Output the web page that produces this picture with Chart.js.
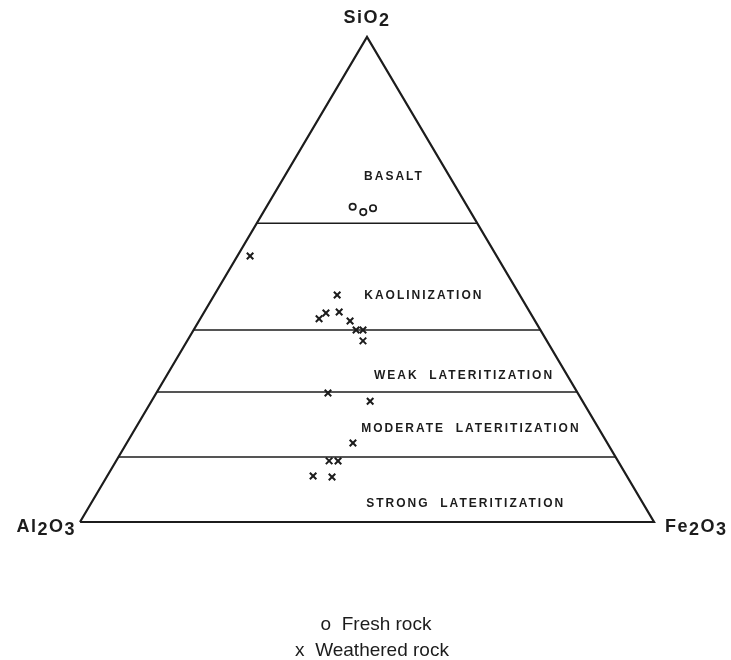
<!DOCTYPE html>
<html>
<head>
<meta charset="utf-8">
<script src="https://cdn.jsdelivr.net/npm/chart.js@4"></script>
<style>
  body { margin: 0; background: #fff; }
  #wrap { width: 731px; height: 660px; }
</style>
</head>
<body>
<div id="wrap"><canvas id="ternary" width="731" height="660"></canvas></div>
<script>
// corner oxides (apex, left, right)
const cornerLabels = ['SiO2', 'Al2O3', 'Fe2O3'];
// SiO2 % where the zone lines cross the triangle
const zoneBoundsSiO2 = [61.6, 39.6, 26.8, 13.4];
const zoneNames = ['BASALT', 'KAOLINIZATION', 'WEAK  LATERITIZATION', 'MODERATE  LATERITIZATION', 'STRONG  LATERITIZATION'];

// fresh rock compositions (%)
const freshSiO2  = [65.0, 63.9, 64.7];
const freshAl2O3 = [20.0, 18.7, 16.6];
const freshFe2O3 = [15.0, 17.4, 18.7];

// weathered rock compositions (%)
const weatheredSiO2  = [54.8, 46.8, 41.9, 43.1, 43.3, 41.4, 39.6, 39.6, 37.3, 26.6, 24.9, 16.3, 12.6, 12.6, 9.5, 9.3];
const weatheredAl2O3 = [42.9, 31.8, 37.4, 35.6, 33.2, 32.2, 32.1, 30.9, 32.0, 43.5, 37.0, 44.3, 50.3, 48.8, 54.7, 51.5];
const weatheredFe2O3 = [2.2, 21.4, 20.7, 21.3, 23.5, 26.3, 28.3, 29.5, 30.6, 29.9, 38.1, 39.4, 37.1, 38.7, 35.9, 39.3];

const legendLabels = ['o  Fresh rock', 'x  Weathered rock'];

// ternary -> cartesian (apex = SiO2, left = Al2O3, right = Fe2O3)
function toXY(si, al, fe) {
    const t = si + al + fe;
    return { x: fe / t + (si / t) / 2, y: si / t };
}
const ink = '#1c1c1c';

const trianglePts = [toXY(0, 100, 0), toXY(100, 0, 0), toXY(0, 0, 100), toXY(0, 100, 0)];
const zoneLineSets = zoneBoundsSiO2.map(s => ({
    data: [toXY(s, 100 - s, 0), toXY(s, 0, 100 - s)],
    showLine: true, borderColor: ink, borderWidth: 1.6, pointRadius: 0, clip: false
}));

// text: zone names, corner oxides, legend
const labelPlugin = {
    id: 'labels',
    afterDatasetsDraw(chart) {
        const ctx = chart.ctx, xs = chart.scales.x, ys = chart.scales.y;
        ctx.save();
        ctx.fillStyle = ink;

        // zone names
        const zonePos = [[0.547, 0.711], [0.599, 0.466], [0.669, 0.301], [0.681, 0.192], [0.672, 0.037]];
        ctx.font = 'bold 12px "Liberation Sans"';
        ctx.letterSpacing = '2px';
        ctx.textAlign = 'center';
        ctx.textBaseline = 'middle';
        zoneNames.forEach((name, i) => {
            ctx.fillText(name, xs.getPixelForValue(zonePos[i][0]), ys.getPixelForValue(zonePos[i][1]));
        });

        // corner oxide labels, digits dropped a little
        ctx.font = 'bold 18px "Liberation Sans"';
        ctx.letterSpacing = '1.5px';
        ctx.textBaseline = 'alphabetic';
        ctx.textAlign = 'left';
        const drawChem = (txt, x, y, align) => {
            const parts = txt.match(/[A-Za-z]+|\d/g);
            const w = ctx.measureText(txt).width;
            let cx = align === 'right' ? x - w : align === 'center' ? x - w / 2 : x;
            parts.forEach(p => {
                const drop = /\d/.test(p) ? 3 : 0;
                ctx.fillText(p, cx, y + drop);
                cx += ctx.measureText(p).width;
            });
        };
        const apex = trianglePts[1], left = trianglePts[0], right = trianglePts[2];
        drawChem(cornerLabels[0], xs.getPixelForValue(apex.x), ys.getPixelForValue(apex.y) - 14, 'center');
        drawChem(cornerLabels[1], xs.getPixelForValue(left.x) - 4, ys.getPixelForValue(left.y) + 10, 'right');
        drawChem(cornerLabels[2], xs.getPixelForValue(right.x) + 11, ys.getPixelForValue(right.y) + 10, 'left');

        // legend
        ctx.font = '19px "Liberation Sans"';
        ctx.letterSpacing = '0px';
        ctx.textAlign = 'center';
        ctx.textBaseline = 'middle';
        const cx = (chart.chartArea.left + chart.chartArea.right) / 2 + 5;
        ctx.fillText(legendLabels[0], cx + 4, 625);
        ctx.fillText(legendLabels[1], cx, 651);
        ctx.restore();
    }
};

new Chart(document.getElementById('ternary'), {
    type: 'scatter',
    data: {
        datasets: [
            {
                data: trianglePts, showLine: true, borderColor: ink, borderWidth: 2.2,
                pointRadius: 0, clip: false, borderJoinStyle: 'miter'
            },
            ...zoneLineSets,
            {
                label: 'Fresh rock',
                data: freshSiO2.map((s, i) => toXY(s, freshAl2O3[i], freshFe2O3[i])),
                pointStyle: 'circle', pointRadius: 3.2, borderWidth: 1.7,
                borderColor: ink, backgroundColor: '#fff', clip: false
            },
            {
                label: 'Weathered rock',
                data: weatheredSiO2.map((s, i) => toXY(s, weatheredAl2O3[i], weatheredFe2O3[i])),
                pointStyle: 'crossRot', pointRadius: 4.6, borderWidth: 2,
                borderColor: ink, backgroundColor: ink, clip: false
            }
        ]
    },
    options: {
        responsive: false,
        animation: false,
        layout: { padding: { left: 80, right: 77, top: 37, bottom: 138 } },
        scales: {
            x: { type: 'linear', min: 0, max: 1, display: false },
            y: { type: 'linear', min: 0, max: 1, display: false }
        },
        plugins: {
            legend: { display: false },
            tooltip: { enabled: false }
        }
    },
    plugins: [labelPlugin]
});
</script>
</body>
</html>
